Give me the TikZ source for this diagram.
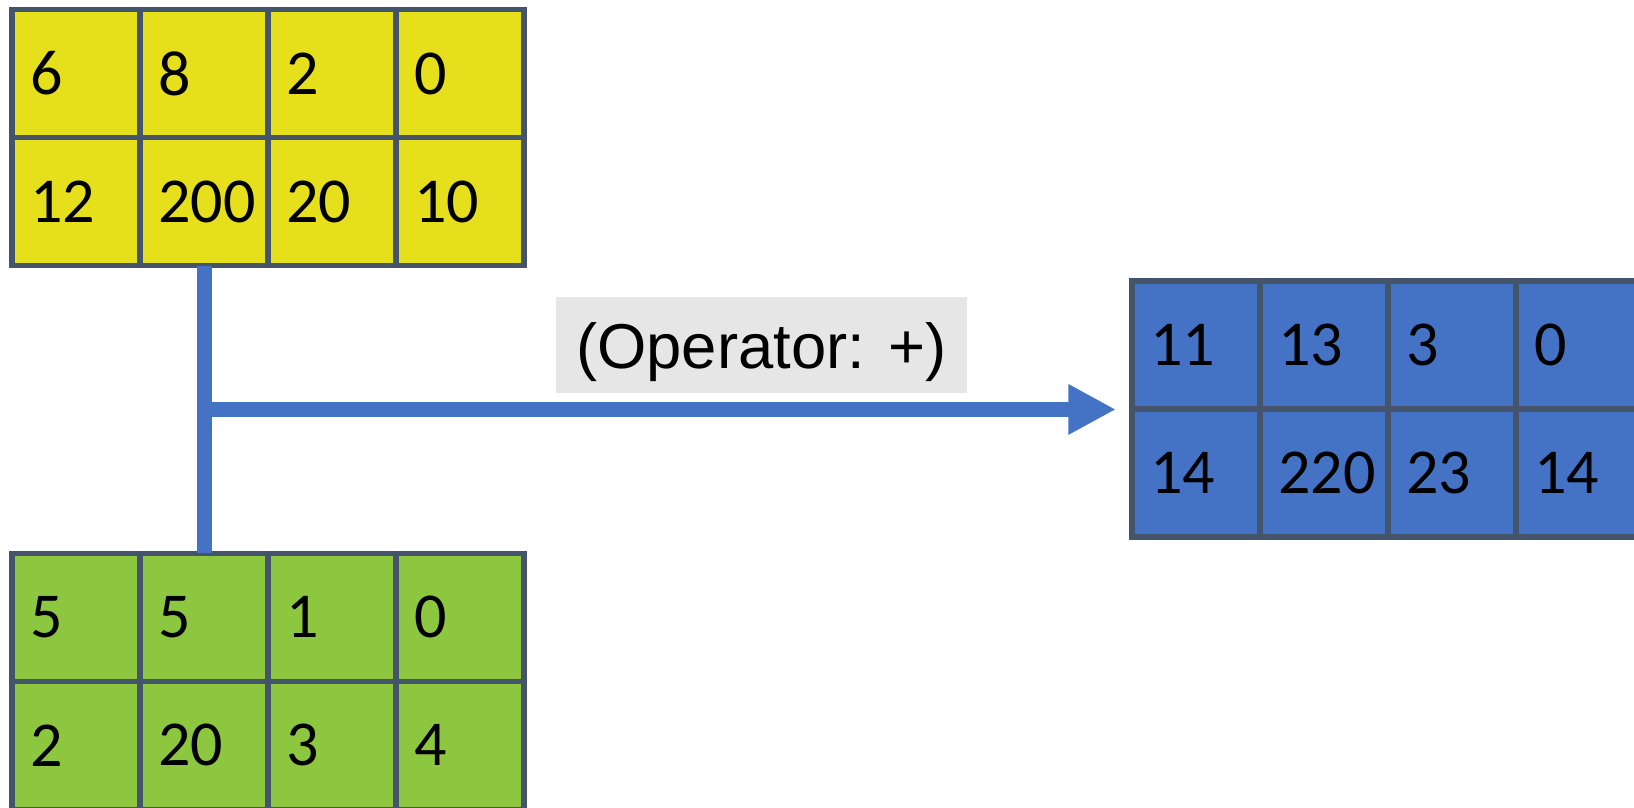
\documentclass[tikz,border=0pt]{standalone}
\usepackage{fontspec}
\setmainfont{Carlito}
\newfontfamily\opfont{Liberation Sans}
\usetikzlibrary{matrix,arrows.meta,calc,positioning}
\usepackage{xcolor}
\newcommand{\cellunit}{64pt}
\definecolor{gridline}{HTML}{44546A}
\definecolor{yellowcell}{HTML}{E6DF1B}
\definecolor{greencell}{HTML}{8DC63F}
\definecolor{bluecell}{HTML}{4472C4}
\definecolor{opgray}{HTML}{E6E6E6}
\tikzset{
    cellsty/.style={draw=gridline,line width=2.85pt,rectangle,minimum size=\cellunit,text width=46pt,align=left,inner xsep=9pt,inner ysep=0pt,font=\fontsize{32pt}{38pt}\selectfont,anchor=center},
    ycsty/.style={cellsty,fill=yellowcell},
    gcsty/.style={cellsty,fill=greencell},
    bcsty/.style={cellsty,fill=bluecell},
    gridsty/.style={matrix of nodes,column sep=-2.85pt,row sep=-2.85pt,inner sep=0pt,outer sep=0pt,anchor=north west,ampersand replacement=\&},
    linksty/.style={draw=bluecell,line width=7.5pt},
    opsty/.style={fill=opgray,rectangle,minimum width=205.5pt,minimum height=48.3pt,inner sep=0pt,text height=30pt,text depth=6.7pt,font=\opfont\fontsize{31.7pt}{38pt}\selectfont},
}

\begin{document}
\begin{tikzpicture}[x=0.5pt,y=-0.5pt]
  \useasboundingbox (0,0) rectangle (1634,808);

  \matrix (Y) [gridsty, nodes={ycsty}] at (9.4,6.7)
  {
6 \& 8 \& 2 \& 0 \\
12 \& 200 \& 20 \& 10 \\
  };

  \matrix (G) [gridsty, nodes={gcsty}] at (9.4,550.5)
  {
5 \& 5 \& 1 \& 0 \\
2 \& 20 \& 3 \& 4 \\
  };

  \matrix (B) [gridsty, nodes={bcsty}] at (1129.4,278.4)
  {
11 \& 13 \& 3 \& 0 \\
14 \& 220 \& 23 \& 14 \\
  };

  \draw[linksty] (Y-2-2.south) -- coordinate (mid) (G-1-2.north);
  \coordinate (tip) at ([xshift=-6.75pt]B.west);
  \draw[linksty,-{Triangle[length=23.8pt,width=23.6pt]}] (mid) -- (mid -| tip);

  \node (op) [opsty] at (761.5,345) {(Operator: +)};
\end{tikzpicture}
\end{document}
